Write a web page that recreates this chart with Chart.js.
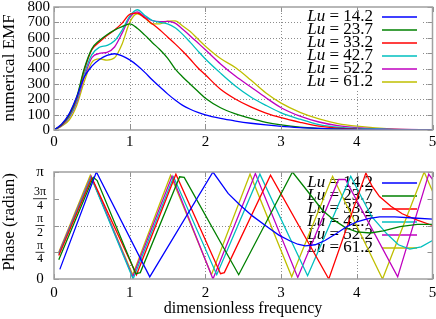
<!DOCTYPE html>
<html><head><meta charset="utf-8">
<script src="https://cdn.jsdelivr.net/npm/chart.js@4/dist/chart.umd.min.js"></script>
<style>
html,body{margin:0;padding:0;background:#fff;}
#wrap{position:relative;width:436px;height:319px;overflow:hidden;}
#c1{position:absolute;left:0;top:0;}
#c2{position:absolute;left:0;top:150px;}
</style></head><body>
<div id="wrap"><canvas id="c1" width="436" height="150"></canvas><canvas id="c2" width="436" height="169"></canvas></div>
<script>
// ---------- data ----------
const luValues = ['14.2', '23.7', '33.2', '42.7', '52.2', '61.2'];
const seriesColors = ['#0000ff', '#008000', '#ff0000', '#00bfbf', '#bf00bf', '#bfbf00'];

const xTickValues = [0, 1, 2, 3, 4, 5];
const emfTickValues = [0, 100, 200, 300, 400, 500, 600, 700, 800];
const phaseTickValues = [0, 0.25, 0.5, 0.75, 1];           // in units of pi
const phaseTickNum = ['0', 'π', 'π', '3π', 'π'];
const phaseTickDen = ['', '4', '2', '4', ''];

// top panel: numerical EMF
const emfFreq = [0, 0.1, 0.2, 0.3, 0.4, 0.5, 0.6, 0.7, 0.8, 0.9, 1.0, 1.1, 1.2, 1.3, 1.4, 1.5, 1.6, 1.7, 1.8, 1.9, 2.0, 2.2, 2.4, 2.6, 2.8, 3.0, 3.25, 3.5, 3.75, 4.0, 4.5, 5.0];
const emfLu142 = [0, 38, 105, 215, 345, 415, 458, 485, 496, 482, 456, 420, 375, 325, 280, 235, 195, 160, 135, 115, 98, 75, 58, 44, 33, 24, 16, 10, 6, 4, 1, 0];
const emfLu237 = [0, 35, 100, 215, 400, 528, 582, 620, 650, 672, 690, 662, 617, 568, 522, 468, 398, 345, 298, 252, 207, 145, 105, 75, 50, 33, 18, 10, 5, 3, 1, 0];
const emfLu332 = [0, 33, 95, 205, 390, 522, 572, 615, 650, 695, 752, 760, 728, 690, 650, 605, 560, 512, 460, 405, 359, 265, 200, 150, 110, 80, 50, 25, 12, 6, 2, 0];
const emfLu427 = [0, 30, 85, 190, 365, 490, 538, 550, 580, 650, 740, 782, 745, 712, 700, 690, 665, 622, 570, 515, 462, 370, 285, 215, 160, 112, 70, 35, 18, 10, 3, 1];
const emfLu522 = [0, 28, 80, 180, 345, 470, 498, 505, 540, 630, 730, 768, 735, 712, 705, 706, 695, 655, 612, 567, 522, 430, 350, 280, 210, 145, 90, 52, 28, 16, 5, 1];
const emfLu612 = [0, 25, 65, 160, 315, 440, 462, 455, 470, 560, 700, 756, 730, 690, 690, 708, 710, 677, 640, 592, 545, 465, 405, 325, 240, 175, 115, 72, 42, 25, 6, 1];

// bottom panel: phase (units of pi)
const phaseF142 = [0.077, 0.56, 1.265, 2.10, 2.30, 2.46, 2.62, 2.81, 2.97, 3.12, 3.22, 3.32, 3.45, 3.58, 3.72, 3.87, 4.0, 4.15, 4.3, 4.5, 4.75, 5.0];
const phaseP142 = [0.09, 1.0, 0.02, 1.0, 0.80, 0.69, 0.59, 0.49, 0.41, 0.355, 0.325, 0.31, 0.32, 0.36, 0.42, 0.49, 0.535, 0.565, 0.58, 0.58, 0.57, 0.56];
const phaseF237 = [0.063, 0.52, 0.57, 1.08, 1.14, 1.66, 1.72, 2.44, 3.15, 3.35, 3.55, 3.70, 3.85, 4.0, 4.18, 4.35, 4.57, 4.8, 5.0];
const phaseP237 = [0.18, 0.95, 0.92, 0.05, 0.06, 0.955, 0.95, 0.04, 1.0, 0.82, 0.64, 0.55, 0.48, 0.44, 0.43, 0.45, 0.49, 0.51, 0.51];
const phaseF332 = [0.063, 0.50, 1.09, 1.61, 2.20, 2.25, 2.86, 3.63, 4.12, 4.2, 4.3, 4.45, 4.6, 4.8, 5.0];
const phaseP332 = [0.22, 0.945, 0.04, 0.98, 0.05, 0.06, 0.97, 0.0, 0.99, 0.87, 0.77, 0.68, 0.61, 0.55, 0.50];
const phaseF427 = [0.063, 0.49, 1.045, 1.58, 2.15, 2.72, 3.35, 3.92, 4.05, 4.2, 4.4, 4.55, 4.7, 4.85, 5.0];
const phaseP427 = [0.23, 0.95, 0.0, 0.955, 0.04, 0.98, 0.03, 0.96, 0.78, 0.58, 0.42, 0.32, 0.28, 0.30, 0.36];
const phaseF522 = [0.063, 0.49, 1.04, 1.56, 2.10, 2.66, 3.22, 3.76, 3.85, 4.54, 4.95, 5.0];
const phaseP522 = [0.24, 0.96, 0.02, 0.96, 0.0, 0.985, 0.015, 0.93, 0.93, 0.02, 0.98, 0.93];
const phaseF612 = [0.063, 0.48, 1.04, 1.54, 2.08, 2.59, 3.14, 3.68, 4.34, 4.89, 5.0];
const phaseP612 = [0.25, 0.97, 0.04, 0.97, 0.04, 0.98, 0.02, 0.96, 0.0, 1.0, 0.82];

// ---------- helpers ----------
const SERIF = '"Liberation Serif", "DejaVu Serif", serif';
function pts(xs, ys) { return xs.map((x, i) => ({ x: x, y: ys[i] })); }

const emfSeries = [emfLu142, emfLu237, emfLu332, emfLu427, emfLu522, emfLu612];
const phaseSeries = [[phaseF142, phaseP142], [phaseF237, phaseP237], [phaseF332, phaseP332],
                     [phaseF427, phaseP427], [phaseF522, phaseP522], [phaseF612, phaseP612]];

function panelPlugin(cfg) {
  return {
    id: 'panel' + cfg.name,
    beforeDatasetsDraw(chart) {
      const ctx = chart.ctx, a = chart.chartArea, xs = chart.scales.x, ys = chart.scales.y;
      ctx.save();
      ctx.strokeStyle = '#8c8c8c'; ctx.lineWidth = 1; ctx.setLineDash([1, 2]);
      cfg.xGrid.forEach(v => {
        const px = Math.round(xs.getPixelForValue(v)) + 0.5;
        ctx.beginPath(); ctx.moveTo(px, a.top); ctx.lineTo(px, a.bottom); ctx.stroke();
      });
      cfg.yGrid.forEach(v => {
        const py = Math.round(ys.getPixelForValue(v)) + 0.5;
        ctx.beginPath(); ctx.moveTo(a.left, py); ctx.lineTo(a.right, py); ctx.stroke();
      });
      ctx.setLineDash([]);
      // legend box
      ctx.fillStyle = '#fff';
      ctx.fillRect(cfg.legBox[0], cfg.legBox[1], cfg.legBox[2], cfg.legBox[3]);
      // legend entries
      ctx.textBaseline = 'middle';
      luValues.forEach((lu, i) => {
        const y = cfg.legY0 + i * 13;
        ctx.font = 'italic 17px ' + SERIF;
        const w1 = ctx.measureText('Lu').width;
        ctx.font = '17px ' + SERIF;
        const rest = ' = ' + lu;
        const w2 = ctx.measureText(rest).width;
        const x0 = 373 - w1 - w2;
        ctx.fillStyle = '#000';
        ctx.font = 'italic 17px ' + SERIF;
        ctx.fillText('Lu', x0, y);
        ctx.font = '17px ' + SERIF;
        ctx.fillText(rest, x0 + w1, y);
        ctx.strokeStyle = seriesColors[i]; ctx.lineWidth = 1.5;
        ctx.beginPath(); ctx.moveTo(382, y); ctx.lineTo(417, y); ctx.stroke();
      });
      ctx.restore();
    },
    afterDatasetsDraw(chart) {
      const ctx = chart.ctx, a = chart.chartArea, xs = chart.scales.x, ys = chart.scales.y;
      ctx.save();
      ctx.strokeStyle = '#909090'; ctx.lineWidth = 1;
      const T = 5;
      cfg.xTicks.forEach(v => {
        const px = Math.round(xs.getPixelForValue(v)) + 0.5;
        ctx.beginPath(); ctx.moveTo(px, a.bottom); ctx.lineTo(px, a.bottom - T);
        ctx.moveTo(px, a.top); ctx.lineTo(px, a.top + T); ctx.stroke();
      });
      cfg.yTicks.forEach(v => {
        const py = Math.round(ys.getPixelForValue(v)) + 0.5;
        ctx.beginPath(); ctx.moveTo(a.left, py); ctx.lineTo(a.left + T, py);
        ctx.moveTo(a.right, py); ctx.lineTo(a.right - T, py); ctx.stroke();
      });
      ctx.strokeStyle = '#a0a0a0'; ctx.lineWidth = 1.5;
      ctx.strokeRect(a.left, a.top, a.right - a.left, a.bottom - a.top);
      ctx.restore();
    },
    afterDraw(chart) {
      const ctx = chart.ctx, ys = chart.scales.y;
      ctx.save();
      ctx.fillStyle = '#000';
      ctx.textAlign = 'center'; ctx.textBaseline = 'middle';
      ctx.save();
      ctx.translate(10, cfg.yTitleY);
      ctx.rotate(-Math.PI / 2);
      ctx.font = '17px ' + SERIF;
      ctx.fillText(cfg.yTitle, 0, 0);
      ctx.restore();
      if (cfg.xTitle) {
        ctx.font = '16px ' + SERIF;
        ctx.fillText(cfg.xTitle, 243, cfg.xTitleY);
      }
      if (cfg.fractions) {
        phaseTickValues.forEach((v, i) => {
          const py = ys.getPixelForValue(v);
          const cx = 40;
          if (!phaseTickDen[i]) {
            ctx.font = '15px ' + SERIF;
            ctx.fillText(phaseTickNum[i], cx, py);
          } else {
            ctx.font = '12px ' + SERIF;
            const w = Math.max(ctx.measureText(phaseTickNum[i]).width, 7) + 2;
            ctx.fillText(phaseTickNum[i], cx, py - 6.5);
            ctx.fillText(phaseTickDen[i], cx, py + 7);
            ctx.fillRect(cx - w / 2, py - 0.4, w, 0.8);
          }
        });
      }
      ctx.restore();
    }
  };
}

function lineDs(i, data) {
  return {
    label: 'Lu = ' + luValues[i],
    data: data,
    showLine: true,
    borderColor: seriesColors[i],
    backgroundColor: seriesColors[i],
    borderWidth: 1.3,
    pointRadius: 0,
    fill: false
  };
}

const fixX = h => s => { s.height = h; s.paddingLeft = 0; s.paddingRight = 0; s.paddingTop = 0; s.paddingBottom = 0; };
const fixY = w => s => { s.width = w; s.paddingTop = 0; s.paddingBottom = 0; s.paddingLeft = 0; s.paddingRight = 0; };

Chart.defaults.font.family = SERIF;
Chart.defaults.color = '#000';

// ---------- top chart ----------
new Chart(document.getElementById('c1'), {
  type: 'scatter',
  data: {
    datasets: emfSeries.map((arr, i) => Object.assign(lineDs(i, pts(emfFreq, arr)), { cubicInterpolationMode: 'monotone' }))
  },
  options: {
    responsive: false, animation: false, devicePixelRatio: 1,
    layout: { padding: { top: 7, right: 3.5, left: 0, bottom: 0 } },
    plugins: { legend: { display: false }, tooltip: { enabled: false } },
    scales: {
      x: {
        type: 'linear', min: 0, max: 5,
        afterBuildTicks: s => { s.ticks = xTickValues.map(v => ({ value: v })); },
        ticks: { font: { size: 15 }, padding: 3, maxRotation: 0, autoSkip: false, callback: v => String(v) },
        grid: { display: false, drawTicks: false }, border: { display: false },
        afterFit: fixX(20)
      },
      y: {
        min: 0, max: 800,
        afterBuildTicks: s => { s.ticks = emfTickValues.map(v => ({ value: v })); },
        ticks: { font: { size: 15 }, padding: 4, autoSkip: false, callback: v => String(v) },
        grid: { display: false, drawTicks: false }, border: { display: false },
        afterFit: fixY(54)
      }
    }
  },
  plugins: [panelPlugin({
    name: 'top', xGrid: [1, 2, 3, 4], yGrid: [100, 200, 300, 400, 500, 600, 700],
    xTicks: xTickValues, yTicks: emfTickValues,
    legBox: [303, 8, 120, 81], legY0: 17,
    yTitle: 'numerical EMF', yTitleY: 68
  })]
});

// ---------- bottom chart ----------
new Chart(document.getElementById('c2'), {
  type: 'scatter',
  data: {
    datasets: phaseSeries.map((p, i) => Object.assign(lineDs(i, pts(p[0], p[1])), { tension: 0 }))
  },
  options: {
    responsive: false, animation: false, devicePixelRatio: 1,
    layout: { padding: { top: 22, right: 3.5, left: 0, bottom: 0 } },
    plugins: { legend: { display: false }, tooltip: { enabled: false } },
    scales: {
      x: {
        type: 'linear', min: 0, max: 5,
        afterBuildTicks: s => { s.ticks = xTickValues.map(v => ({ value: v })); },
        ticks: { font: { size: 15 }, padding: 5, maxRotation: 0, autoSkip: false, callback: v => String(v) },
        grid: { display: false, drawTicks: false }, border: { display: false },
        afterFit: fixX(40)
      },
      y: {
        min: 0, max: 1,
        afterBuildTicks: s => { s.ticks = phaseTickValues.map(v => ({ value: v })); },
        ticks: { display: false },
        grid: { display: false, drawTicks: false }, border: { display: false },
        afterFit: fixY(54)
      }
    }
  },
  plugins: [panelPlugin({
    name: 'bot', xGrid: [1, 2, 3, 4], yGrid: [0.5],
    xTicks: xTickValues, yTicks: phaseTickValues,
    legBox: [303, 24, 120, 81], legY0: 33,
    yTitle: 'Phase (radian)', yTitleY: 72,
    xTitle: 'dimensionless frequency', xTitleY: 159,
    fractions: true
  })]
});
</script>
</body></html>
